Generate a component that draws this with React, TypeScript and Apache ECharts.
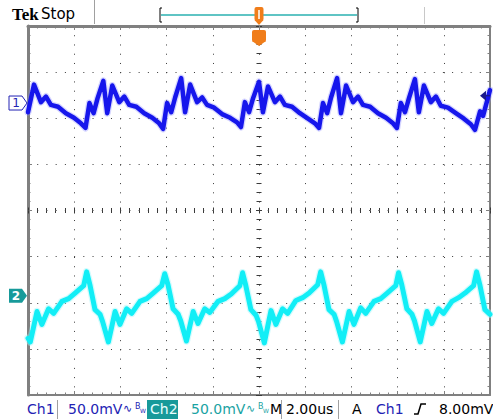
import React, { useEffect, useRef } from "react";
import * as echarts from "echarts";

// ---- Data (time in µs, amplitude in mV) ----
const ch1Time = [0.0, 0.26, 0.56, 0.78, 0.99, 1.3, 1.64, 1.99, 2.29,
  2.49, 2.66, 2.84, 3.01, 3.26, 3.43, 3.65, 3.95, 4.17, 4.38, 4.69, 5.03, 5.38, 5.68,
  5.85, 6.02, 6.2, 6.37, 6.63, 6.8, 7.02, 7.32, 7.54, 7.75, 8.06, 8.4, 8.75, 9.05,
  9.22, 9.39, 9.57, 9.74, 10.0, 10.17, 10.39, 10.69, 10.91, 11.12, 11.43, 11.77, 12.12, 12.42,
  12.6, 12.77, 12.95, 13.12, 13.38, 13.55, 13.77, 14.07, 14.29, 14.5, 14.81, 15.15, 15.5, 15.8,
  15.97, 16.14, 16.32, 16.49, 16.75, 16.92, 17.14, 17.44, 17.66, 17.87, 18.18, 18.52, 18.87, 19.17,
  19.35, 19.57, 19.7, 20.0];
const ch1Mv = [-10, 20, 1, 7, -2, -4, -11, -16, -22,
  -27, 0, -11, 5, 24, -11, 19, 1, 7, -2, -4, -11, -16, -22,
  -28, 0, -10, 6, 27, -10, 20, 1, 6, -2, -5, -12, -16, -21,
  -26, 1, -10, 5, 23, -10, 18, 1, 7, -2, -4, -11, -17, -22,
  -27, 0, -11, 6, 27, -11, 19, 1, 7, -2, -4, -11, -16, -22,
  -27, 0, -10, 5, 26, -10, 19, 1, 7, -3, -5, -11, -17, -23,
  -29, -9, -14, 14];

const ch2Time = [0.0, 0.1, 0.39, 0.6, 0.89, 1.11, 1.47, 1.76, 2.04, 2.41,
  2.54, 2.68, 2.9, 3.12, 3.23, 3.48, 3.77, 3.98, 4.27, 4.49, 4.85, 5.14, 5.42, 5.79,
  5.92, 6.06, 6.28, 6.5, 6.61, 6.86, 7.15, 7.36, 7.65, 7.87, 8.23, 8.52, 8.8, 9.17,
  9.29, 9.43, 9.65, 9.87, 9.98, 10.23, 10.52, 10.73, 11.02, 11.24, 11.6, 11.89, 12.17, 12.54,
  12.67, 12.81, 13.03, 13.25, 13.36, 13.61, 13.9, 14.11, 14.4, 14.62, 14.98, 15.27, 15.55, 15.92,
  16.04, 16.18, 16.4, 16.62, 16.73, 16.98, 17.27, 17.48, 17.77, 17.99, 18.35, 18.64, 18.92, 19.29,
  19.42, 19.56, 19.78, 20.0];
const ch2Mv = [-46, -50, -17, -31, -14, -19, -6, -3, 3, 11,
  26, 12, -15, -20, -28, -50, -17, -31, -14, -19, -6, -3, 3, 11,
  24, 12, -14, -20, -27, -49, -17, -30, -14, -18, -6, -3, 2, 11,
  25, 11, -15, -21, -28, -51, -16, -31, -14, -19, -5, -2, 3, 12,
  26, 12, -15, -20, -28, -50, -17, -31, -13, -19, -6, -3, 3, 11,
  25, 12, -14, -20, -27, -50, -17, -30, -14, -19, -6, -2, 3, 11,
  26, 12, -15, -20];

const timePerDiv = 2; // µs/div
const ch1PerDiv = 50; // mV/div
const ch2PerDiv = 50; // mV/div
const ch1Position = 2.33; // divisions above centre
const ch2Position = -1.85; // divisions above centre
const triggerLevel = 8; // mV on Ch1
const headerTexts = ["Tek", "Stop"];
const statusTexts = ["Ch1", "50.0mV", "Ch2", "50.0mV", "M", "2.00us", "A", "Ch1", "8.00mV"];

const GRAY = "#808080";
const DOT = "#3a3a3a";
const BLUE = "#2323b4";
const TEAL = "#1aa3a3";
const ORANGE = "#f07d1a";
const FONT = '"DejaVu Sans", sans-serif';

function ruler(base: any, extra: any) {
  return {
    type: "value",
    ...base,
    axisLine: { show: true, onZero: false, lineStyle: { color: GRAY, width: 2 } },
    axisTick: { show: true, inside: true, length: 4, lineStyle: { color: GRAY } },
    minorTick: { show: true, splitNumber: 5, length: 2.5, lineStyle: { color: GRAY } },
    axisLabel: { show: false },
    splitLine: { show: false },
    ...extra,
  };
}

export default function App() {
  const ref = useRef<HTMLDivElement>(null);
  useEffect(() => {
    if (!ref.current) return;
    const chart = echarts.init(ref.current, null, { renderer: "svg" });
    const xBase = { min: 0, max: 10 * timePerDiv, interval: timePerDiv };
    const divBase = { min: -4, max: 4, interval: 1 };
    const centerTicks = {
      axisLine: { show: false, onZero: false },
      axisTick: { show: true, inside: true, length: 3, lineStyle: { color: DOT } },
      minorTick: { show: true, splitNumber: 5, length: 2.5, lineStyle: { color: DOT } },
    };
    const ch1Data = ch1Time.map((t, i) => [t, ch1Mv[i]]);
    const ch2Data = ch2Time.map((t, i) => [t, ch2Mv[i]]);
    const trace = (name: string, data: number[][], yIdx: number, color: string, width: number, opacity: number, z: number) => ({
      name, type: "line", data, xAxisIndex: 0, yAxisIndex: yIdx, symbol: "none", silent: true, z,
      lineStyle: { color, width, opacity, join: "round", cap: "round" },
    });
    chart.setOption({
      animation: false,
      backgroundColor: "#ffffff",
      grid: { left: 28, top: 26, width: 462, height: 369, containLabel: false },
      xAxis: [
        ruler(xBase, {
          position: "bottom",
          splitLine: { show: true, lineStyle: { color: DOT, type: [1, 8.24], width: 1 } },
        }),
        ruler(xBase, { position: "top", axisLine: { show: true, onZero: false, lineStyle: { color: GRAY, width: 3 } } }),
        ruler(xBase, { position: "bottom", offset: -184.5, ...centerTicks }),
        ruler(xBase, { position: "top", offset: -184.5, ...centerTicks }),
      ],
      yAxis: [
        { type: "value", show: false, min: -(4 + ch1Position) * ch1PerDiv, max: (4 - ch1Position) * ch1PerDiv },
        { type: "value", show: false, min: -(4 + ch2Position) * ch2PerDiv, max: (4 - ch2Position) * ch2PerDiv },
        ruler(divBase, {
          position: "left",
          axisLine: { show: true, onZero: false, lineStyle: { color: GRAY, width: 3 } },
          splitLine: { show: true, lineStyle: { color: DOT, type: [1, 8.22], width: 1 } },
        }),
        ruler(divBase, { position: "right" }),
        ruler(divBase, { position: "left", offset: -231, ...centerTicks }),
        ruler(divBase, { position: "right", offset: -231, ...centerTicks }),
      ],
      series: [
        trace("ch2halo", ch2Data, 1, "#9ff6fb", 7.5, 0.45, 3),
        trace("ch2", ch2Data, 1, "#12eef6", 5, 1, 4),
        trace("ch1halo", ch1Data, 0, "#8a8aff", 7, 0.35, 5),
        trace("ch1", ch1Data, 0, "#1616ec", 4.5, 1, 6),
      ],
    });

    const p1 = chart.convertToPixel({ xAxisIndex: 0, yAxisIndex: 0 }, [0, 0]) as number[];
    const p2 = chart.convertToPixel({ xAxisIndex: 0, yAxisIndex: 1 }, [0, 0]) as number[];
    const pt = chart.convertToPixel({ xAxisIndex: 0, yAxisIndex: 0 }, [5 * timePerDiv, triggerLevel]) as number[];
    const y1 = p1[1];
    const y2 = p2[1];
    const tx = pt[0];
    const ty = pt[1];
    const txt = (text: string, x: number, y: number, fill: string, font = "14px " + FONT, align = "left") => ({
      type: "text", x, y, silent: true, z: 100,
      style: { text, fill, font, align, verticalAlign: "middle" },
    });
    const vline = (x: number, ya: number, yb: number, color = "#a0a0a0") => ({
      type: "line", silent: true, z: 100, shape: { x1: x, y1: ya, x2: x, y2: yb }, style: { stroke: color, lineWidth: 1 },
    });
    const fy = 409;
    chart.setOption({
      graphic: [
        // header
        txt(headerTexts[0], 12, 14, "#000", 'bold 17px "Liberation Serif", serif'),
        txt(headerTexts[1], 41, 14, "#000", "15px " + FONT),
        vline(94.5, 0, 24),
        vline(424.5, 7, 24, "#c8c8c8"),
        { type: "polyline", silent: true, z: 100, shape: { points: [[162, 8], [160, 8], [160, 22], [162, 22]] }, style: { stroke: "#000", lineWidth: 1, fill: "none" } },
        { type: "polyline", silent: true, z: 100, shape: { points: [[356, 8], [358, 8], [358, 22], [356, 22]] }, style: { stroke: "#000", lineWidth: 1, fill: "none" } },
        { type: "line", silent: true, z: 99, shape: { x1: 161, y1: 15, x2: 357, y2: 15 }, style: { stroke: "#5fc4c4", lineWidth: 2 } },
        { type: "rect", silent: true, z: 101, shape: { x: tx - 4.5, y: 7, width: 9, height: 14, r: 2 }, style: { fill: ORANGE } },
        { type: "line", silent: true, z: 102, shape: { x1: tx, y1: 10, x2: tx, y2: 19 }, style: { stroke: "#fff", lineWidth: 1.5 } },
        { type: "polygon", silent: true, z: 101, shape: { points: [[tx - 4.5, 20], [tx + 4.5, 20], [tx, 25]] }, style: { fill: ORANGE } },
        // trigger position T under the top ruler
        { type: "rect", silent: true, z: 101, shape: { x: tx - 7, y: 30, width: 14, height: 12, r: 2 }, style: { fill: ORANGE } },
        { type: "polygon", silent: true, z: 101, shape: { points: [[tx - 7, 41], [tx + 7, 41], [tx, 46]] }, style: { fill: ORANGE } },
        txt("T", tx, 37, "#fff", "bold 12px " + FONT, "center"),
        // channel ground markers
        { type: "polygon", silent: true, z: 100, shape: { points: [[9, y1 - 7], [22, y1 - 7], [27, y1], [22, y1 + 7], [9, y1 + 7]] }, style: { fill: "#fff", stroke: BLUE, lineWidth: 1 } },
        txt("1", 16, y1, BLUE, "12px " + FONT, "center"),
        { type: "polygon", silent: true, z: 100, shape: { points: [[9, y2 - 7], [22, y2 - 7], [27, y2], [22, y2 + 7], [9, y2 + 7]] }, style: { fill: "#179a9a" } },
        txt("2", 16, y2, "#fff", "bold 12px " + FONT, "center"),
        // trigger level arrow
        { type: "polygon", silent: true, z: 100, shape: { points: [[480, ty], [486, ty - 5], [486, ty + 5]] }, style: { fill: "#1a1a8c" } },
        { type: "line", silent: true, z: 100, shape: { x1: 486, y1: ty, x2: 490, y2: ty }, style: { stroke: "#1a1a8c", lineWidth: 1.5 } },
        // status bar
        txt(statusTexts[0], 27, fy, BLUE),
        vline(57.5, 400, 419),
        txt(statusTexts[1], 68, fy, BLUE),
        txt("∿", 123, fy - 1, BLUE, "11px " + FONT),
        txt("B", 135, fy - 3, BLUE, "8px " + FONT),
        txt("W", 140, fy + 1, BLUE, "6px " + FONT),
        { type: "rect", silent: true, z: 99, shape: { x: 147, y: 400, width: 31, height: 19 }, style: { fill: "#179a9a" } },
        txt(statusTexts[2], 150, fy, "#e8ffff"),
        txt(statusTexts[3], 191, fy, TEAL),
        txt("∿", 246, fy - 1, TEAL, "11px " + FONT),
        txt("B", 258, fy - 3, TEAL, "8px " + FONT),
        txt("W", 263, fy + 1, TEAL, "6px " + FONT),
        txt(statusTexts[4], 270, fy, "#000"),
        vline(281.5, 400, 419),
        txt(statusTexts[5], 286, fy, "#000"),
        vline(338.5, 400, 419),
        txt(statusTexts[6], 352, fy, "#000"),
        txt(statusTexts[7], 376, fy, BLUE),
        { type: "polyline", silent: true, z: 100, shape: { points: [[414, 414], [418, 414], [421, 404], [426, 404]] }, style: { stroke: "#000", lineWidth: 1.5, fill: "none" } },
        txt(statusTexts[8], 439, fy, "#000"),
      ],
    });
    return () => chart.dispose();
  }, []);
  return <div ref={ref} style={{ position: "absolute", left: 0, top: 0, width: 493, height: 419 }} />;
}
